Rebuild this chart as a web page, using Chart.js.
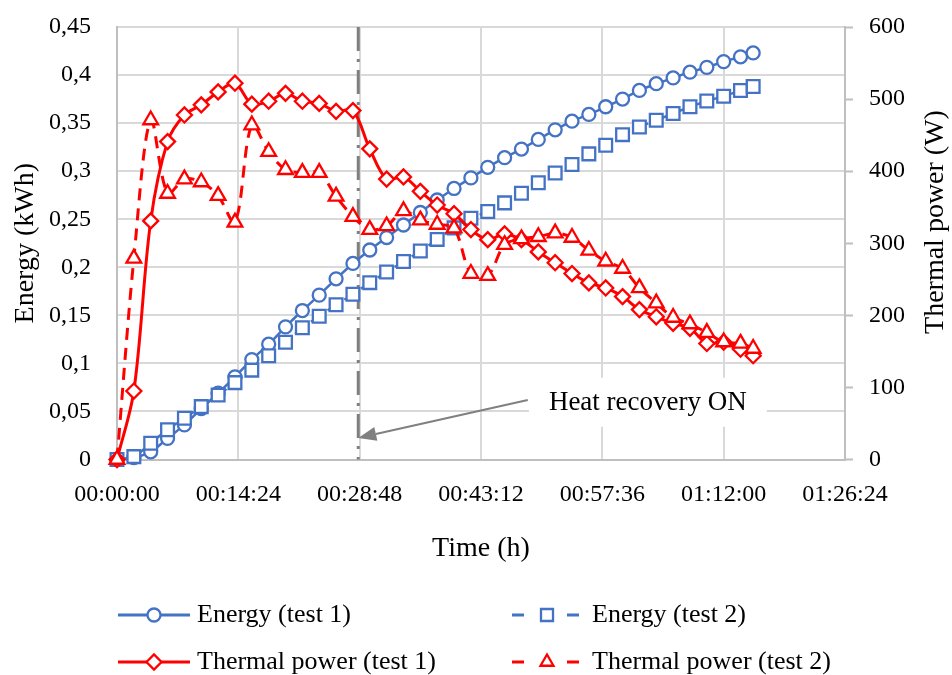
<!DOCTYPE html>
<html>
<head>
<meta charset="utf-8">
<script src="https://cdn.jsdelivr.net/npm/chart.js@4/dist/chart.umd.min.js"></script>
<style>
  html, body { margin: 0; padding: 0; background: #ffffff; }
  #wrap { width: 952px; height: 675px; position: relative; }
</style>
</head>
<body>
<div id="wrap"><canvas id="chart" width="952" height="675"></canvas></div>
<script>
// Elapsed time of each sample, in seconds
const timeSeconds = [
  0, 120, 240, 360, 480, 600, 720, 840, 960, 1080,
  1200, 1320, 1440, 1560, 1680, 1800, 1920, 2040, 2160, 2280,
  2400, 2520, 2640, 2760, 2880, 3000, 3120, 3240, 3360, 3480,
  3600, 3720, 3840, 3960, 4080, 4200, 4320, 4440, 4530
];

// Cumulative recovered energy (kWh)
const energyTest1 = [
  0, 0.002, 0.008, 0.022, 0.036, 0.053, 0.069, 0.086, 0.104, 0.120,
  0.138, 0.155, 0.171, 0.188, 0.204, 0.218, 0.231, 0.244, 0.257, 0.270,
  0.282, 0.293, 0.304, 0.314, 0.323, 0.333, 0.343, 0.352, 0.359, 0.367,
  0.375, 0.384, 0.391, 0.397, 0.403, 0.408, 0.414, 0.419, 0.423
];
const energyTest2 = [
  0, 0.003, 0.017, 0.031, 0.043, 0.055, 0.067, 0.080, 0.093, 0.108,
  0.122, 0.137, 0.149, 0.161, 0.172, 0.184, 0.195, 0.206, 0.217, 0.229,
  0.241, 0.251, 0.258, 0.267, 0.277, 0.288, 0.298, 0.307, 0.318, 0.327,
  0.338, 0.346, 0.353, 0.360, 0.367, 0.373, 0.378, 0.384, 0.388
];

// Thermal power (W)
const powerTest1 = [
  0, 95, 331, 441, 478, 492, 510, 522, 493, 497,
  508, 497, 494, 483, 484, 431, 389, 392, 372, 353,
  341, 319, 305, 313, 305, 288, 273, 258, 245, 238,
  226, 208, 198, 189, 182, 161, 163, 153, 144
];
const powerTest2 = [
  0, 279, 471, 369, 389, 385, 366, 329, 464, 427,
  402, 398, 398, 365, 337, 319, 324, 345, 332, 326,
  321, 258, 255, 298, 306, 309, 314, 308, 290, 275,
  265, 238, 217, 197, 188, 176, 163, 161, 154
];

// Axis ranges and tick steps
const timeAxis = { min: 0, max: 5184, step: 864 };      // 00:14:24 steps
const energyAxis = { min: 0, max: 0.45, step: 0.05 };
const powerAxis = { min: 0, max: 600, step: 100 };

// Moment the heat recovery is switched on (s) and the note about it
const heatRecoveryOn = 1718;
const noteText = 'Heat recovery ON';

const FONT = "'Liberation Serif', 'DejaVu Serif', serif";
const BLUE = '#4472C4';
const RED = '#FF0000';
const GRID = '#D9D9D9';
const AXIS = '#BFBFBF';

function hms(sec) {
  const s = Math.round(sec);
  const h = Math.floor(s / 3600);
  const m = Math.floor((s % 3600) / 60);
  const r = s % 60;
  return [h, m, r].map(n => String(n).padStart(2, '0')).join(':');
}
function commaNumber(v) {
  const r = Math.round(v * 100) / 100;
  return String(r).replace('.', ',');
}
function points(values) {
  return timeSeconds.map((t, i) => ({ x: t, y: values[i] }));
}

const series = [
  { label: 'Energy (test 1)', values: energyTest1, axis: 'yE', color: BLUE,
    style: 'circle', radius: 6.5, width: 2.5, dash: [], order: 3 },
  { label: 'Energy (test 2)', values: energyTest2, axis: 'yE', color: BLUE,
    style: 'rect', radius: 9, width: 2.5, dash: [12, 8], order: 2 },
  { label: 'Thermal power (test 1)', values: powerTest1, axis: 'yP', color: RED,
    style: 'rectRot', radius: 7.5, width: 3, dash: [], order: 1 },
  { label: 'Thermal power (test 2)', values: powerTest2, axis: 'yP', color: RED,
    style: 'triangle', radius: 8.5, width: 3, dash: [12, 8], order: 0 }
];

const datasets = series.map(s => ({
  label: s.label,
  data: points(s.values),
  yAxisID: s.axis,
  borderColor: s.color,
  backgroundColor: '#ffffff',
  borderWidth: s.width,
  borderDash: s.dash,
  tension: 0.33,
  pointStyle: s.style,
  pointRadius: s.radius,
  pointBorderWidth: 2.3,
  pointBorderColor: s.color,
  pointBackgroundColor: '#ffffff',
  order: s.order,
  clip: false
}));

// Vertical axes keep their fixed widths and add no extra top/bottom room
function fixVertical(width) {
  return scale => {
    scale.width = width;
    scale.paddingTop = 0;
    scale.paddingBottom = 0;
  };
}

// Marker line, note, right-hand title and legend
const decorations = {
  id: 'decorations',
  beforeDatasetsDraw(chart) {
    const { ctx, chartArea, scales } = chart;
    const x = scales.x.getPixelForValue(heatRecoveryOn);
    ctx.save();
    // dash-dot marker line
    ctx.strokeStyle = '#7F7F7F';
    ctx.lineWidth = 3;
    ctx.setLineDash([24, 8, 3, 8]);
    ctx.beginPath();
    ctx.moveTo(x, chartArea.top);
    ctx.lineTo(x, chartArea.bottom);
    ctx.stroke();
    ctx.setLineDash([]);

    // note with a white backing
    const cx = scales.x.getPixelForValue(3780);
    const cy = scales.yE.getPixelForValue(0.059);
    ctx.font = '27px ' + FONT;
    const w = ctx.measureText(noteText).width;
    ctx.fillStyle = '#ffffff';
    ctx.fillRect(cx - w / 2 - 20, cy - 25, w + 40, 49);
    ctx.fillStyle = '#000000';
    ctx.textAlign = 'center';
    ctx.textBaseline = 'middle';
    ctx.fillText(noteText, cx, cy);

    // arrow pointing at the marker line
    const sx = scales.x.getPixelForValue(2925);
    const sy = scales.yE.getPixelForValue(0.062);
    const tx = x;
    const ty = scales.yE.getPixelForValue(0.0225);
    const ang = Math.atan2(ty - sy, tx - sx);
    const headLen = 18, headHalf = 7;
    const bx = tx - Math.cos(ang) * headLen;
    const by = ty - Math.sin(ang) * headLen;
    ctx.strokeStyle = '#808080';
    ctx.fillStyle = '#808080';
    ctx.lineWidth = 2;
    ctx.beginPath();
    ctx.moveTo(sx, sy);
    ctx.lineTo(bx, by);
    ctx.stroke();
    ctx.beginPath();
    ctx.moveTo(tx, ty);
    ctx.lineTo(bx + Math.sin(ang) * headHalf, by - Math.cos(ang) * headHalf);
    ctx.lineTo(bx - Math.sin(ang) * headHalf, by + Math.cos(ang) * headHalf);
    ctx.closePath();
    ctx.fill();
    ctx.restore();
  },
  afterDraw(chart) {
    const { ctx } = chart;
    ctx.save();
    // right axis title, reading upwards
    ctx.fillStyle = '#000000';
    ctx.font = '28px ' + FONT;
    ctx.textAlign = 'center';
    ctx.textBaseline = 'middle';
    ctx.translate(936, 222);
    ctx.rotate(-Math.PI / 2);
    ctx.fillText('Thermal power (W)', 0, 0);
    ctx.restore();

    // legend: two columns, two rows
    const cells = [
      { s: series[0], col: 0, row: 0 },
      { s: series[1], col: 1, row: 0 },
      { s: series[2], col: 0, row: 1 },
      { s: series[3], col: 1, row: 1 }
    ];
    const rowsY = [615, 662];
    const cols = [
      { x0: 118, x1: 190, mark: 154, text: 197, dash: [] },
      { x0: 512, x1: 580, mark: 547, text: 592, dash: [12, 43] }
    ];
    const legendRadius = { circle: 6.5, rect: 8.5, rectRot: 7.5, triangle: 7.5 };
    cells.forEach(c => {
      const col = cols[c.col];
      const y = rowsY[c.row];
      ctx.save();
      ctx.strokeStyle = c.s.color;
      ctx.lineWidth = 3;
      ctx.setLineDash(col.dash);
      ctx.beginPath();
      ctx.moveTo(col.x0, y);
      ctx.lineTo(col.x1, y);
      ctx.stroke();
      ctx.setLineDash([]);
      ctx.fillStyle = '#ffffff';
      ctx.strokeStyle = c.s.color;
      ctx.lineWidth = 2.3;
      Chart.helpers.drawPoint(ctx, {
        pointStyle: c.s.style, radius: legendRadius[c.s.style], rotation: 0, borderWidth: 2.3
      }, col.mark, y);
      ctx.fillStyle = '#000000';
      ctx.font = '26px ' + FONT;
      ctx.textAlign = 'left';
      ctx.textBaseline = 'middle';
      ctx.fillText(c.s.label, col.text, y);
      ctx.restore();
    });
  }
};

new Chart(document.getElementById('chart'), {
  type: 'line',
  data: { datasets },
  plugins: [decorations],
  options: {
    responsive: false,
    animation: false,
    devicePixelRatio: 1,
    layout: { padding: { top: 27, left: 0, right: 0, bottom: 105 } },
    plugins: { legend: { display: false }, tooltip: { enabled: false } },
    scales: {
      x: {
        type: 'linear',
        position: 'bottom',
        min: timeAxis.min,
        max: timeAxis.max,
        ticks: {
          stepSize: timeAxis.step,
          callback: v => hms(v),
          font: { family: FONT, size: 24 },
          color: '#000000',
          padding: 21,
          maxRotation: 0,
          autoSkip: false
        },
        grid: { color: GRID, lineWidth: 2, drawTicks: false },
        border: { color: AXIS, width: 2 },
        title: {
          display: true, text: 'Time (h)', color: '#000000',
          font: { family: FONT, size: 28 }, padding: { top: 0, bottom: 5 }
        },
        afterFit(scale) { scale.height = 110.5; }
      },
      yE: {
        type: 'linear',
        position: 'left',
        min: energyAxis.min,
        max: energyAxis.max,
        ticks: {
          stepSize: energyAxis.step,
          callback: v => commaNumber(v),
          font: { family: FONT, size: 24 },
          color: '#000000',
          padding: 26
        },
        grid: { color: GRID, lineWidth: 2, drawTicks: false },
        border: { color: AXIS, width: 2 },
        title: {
          display: true, text: 'Energy (kWh)', color: '#000000',
          font: { family: FONT, size: 28 }, padding: { top: 9, bottom: 0 }
        },
        afterFit: fixVertical(117)
      },
      yP: {
        type: 'linear',
        position: 'right',
        min: powerAxis.min,
        max: powerAxis.max,
        ticks: {
          stepSize: powerAxis.step,
          font: { family: FONT, size: 24 },
          color: '#000000',
          padding: 16
        },
        grid: {
          drawOnChartArea: false, drawTicks: true, tickLength: 8,
          tickColor: AXIS, tickWidth: 2, color: AXIS
        },
        border: { color: AXIS, width: 2 },
        afterFit: fixVertical(107)
      }
    }
  }
});
</script>
</body>
</html>
